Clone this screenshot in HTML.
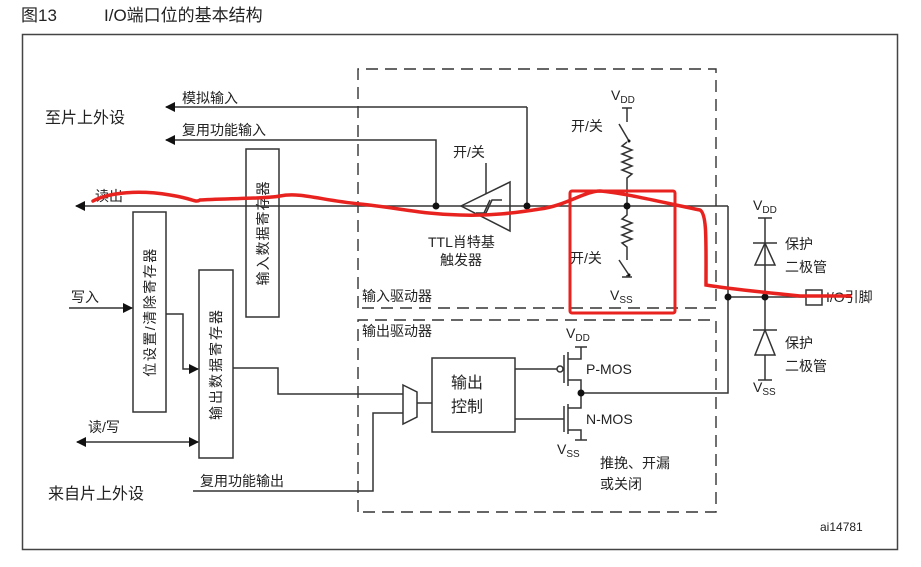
<!DOCTYPE html>
<html><head><meta charset="utf-8"><style>
body{margin:0;background:#fff;}
svg{display:block;font-family:"Liberation Sans","Noto Sans CJK SC",sans-serif;}
text{fill:#222;}
</style></head><body>
<svg width="921" height="567" viewBox="0 0 921 567" xmlns="http://www.w3.org/2000/svg">
<defs>
<marker id="a" markerWidth="10" markerHeight="10" refX="9" refY="5" orient="auto" markerUnits="userSpaceOnUse"><path d="M0,0 L10,5 L0,10 z" fill="#111"/></marker>
<marker id="as" markerWidth="10" markerHeight="10" refX="1" refY="5" orient="auto" markerUnits="userSpaceOnUse"><path d="M10,0 L0,5 L10,10 z" fill="#111"/></marker>
</defs>
<text x="21" y="21" font-size="17">图13</text>
<text x="104" y="21" font-size="17">I/O端口位的基本结构</text>
<rect x="22.5" y="34.5" width="875" height="515" fill="none" stroke="#444" stroke-width="1.5"/>
<g stroke="#333" stroke-width="1.4" fill="none" stroke-dasharray="12,7">
<path d="M358,308 V69 H716 V308 H358"/>
<path d="M358,512 V320 H716 V512 H358"/>
</g>
<g font-size="14">
<text x="362" y="301">输入驱动器</text>
<text x="362" y="336">输出驱动器</text>
<text x="45" y="123" font-size="16">至片上外设</text>
<text x="48" y="499" font-size="16">来自片上外设</text>
<text x="182" y="103">模拟输入</text>
<text x="182" y="135">复用功能输入</text>
<text x="95" y="201">读出</text>
<text x="71" y="302">写入</text>
<text x="88" y="432">读/写</text>
<text x="200" y="486">复用功能输出</text>
<text x="453" y="157">开/关</text>
<text x="428" y="247">TTL肖特基</text>
<text x="440" y="265">触发器</text>
<text x="571" y="131">开/关</text>
<text x="570" y="263">开/关</text>
<text x="785" y="249">保护</text>
<text x="785" y="272">二极管</text>
<text x="785" y="348">保护</text>
<text x="785" y="371">二极管</text>
<text x="826" y="302">I/O引脚</text>
<text x="600" y="468">推挽、开漏</text>
<text x="600" y="489">或关闭</text>
<text x="586" y="374">P-MOS</text>
<text x="586" y="424">N-MOS</text>
<text x="820" y="531" font-size="12">ai14781</text>
</g>
<g font-size="14">
<text x="611" y="100">V<tspan font-size="10" dy="3">DD</tspan></text>
<text x="610" y="300">V<tspan font-size="10" dy="3">SS</tspan></text>
<text x="753" y="210">V<tspan font-size="10" dy="3">DD</tspan></text>
<text x="753" y="392">V<tspan font-size="10" dy="3">SS</tspan></text>
<text x="566" y="338">V<tspan font-size="10" dy="3">DD</tspan></text>
<text x="557" y="454">V<tspan font-size="10" dy="3">SS</tspan></text>
</g>
<g stroke="#333" stroke-width="1.5" fill="#fff">
<rect x="133" y="212" width="33" height="200"/>
<rect x="199" y="270" width="34" height="188"/>
<rect x="246" y="149" width="33" height="168"/>
<rect x="432" y="358" width="83" height="74"/>
</g>
<text x="451" y="388" font-size="16">输出</text>
<text x="451" y="412" font-size="16">控制</text>
<g font-size="14">
<text transform="translate(155,312) rotate(-90)" text-anchor="middle" letter-spacing="1.5">位设置/清除寄存器</text>
<text transform="translate(221,364) rotate(-90)" text-anchor="middle" letter-spacing="2">输出数据寄存器</text>
<text transform="translate(268,233) rotate(-90)" text-anchor="middle" letter-spacing="1">输入数据寄存器</text>
</g>
<g stroke="#333" stroke-width="1.5" fill="none">
<path d="M527,107 H166" marker-end="url(#a)"/>
<path d="M527,107 V206"/>
<path d="M436,206 V140 H166" marker-end="url(#a)"/>
<path d="M728,206 H76" marker-end="url(#a)"/>
<path d="M728,206 V393 H582"/>
<path d="M728,297 H806"/>
<path d="M69,308 H132" marker-end="url(#a)"/>
<path d="M166,314 H183 V369 H198" marker-end="url(#a)"/>
<path d="M77,442 H198" marker-start="url(#as)" marker-end="url(#a)"/>
<path d="M233,368 H278 V394 H403"/>
<path d="M193,491 H373 V413 H403"/>
<path d="M403,385 L417,392 L417,417 L403,424 Z"/>
<path d="M417,403 H432"/>
<path d="M461,206 L510,182 L510,231 Z"/>
<path d="M486,163 V194"/>
<path d="M476,213 H486 L492,200 H502 M484,213 L490,200"/>
<path d="M622,108 H632 M627,108 V122 M619,124 L629,141 M627,142 L622,146 L632,150 L622,154 L632,158 L622,162 L632,166 L622,170 L632,174 L627,178 V206"/>
<path d="M627,206 V215 L622,219 L632,223 L622,227 L632,231 L622,235 L632,239 L622,243 L627,247 V260 M619,260 L629,275 M627,275 V277 M622,277 H632"/>
<path d="M765,218 V330 M758,218 H772"/>
<path d="M753,243 H777 M765,243 L755,265 H775 Z"/>
<path d="M753,330 H777 M765,330 L755,355 H775 Z M765,355 V380 M758,380 H772"/>
<rect x="806" y="290" width="16" height="15" fill="#fff"/>
<path d="M515,369 H557 M564,355 V383 M568,352 V386 M568,359 H581 V347 M575,347 H587 M568,380 H581 V408 H568 M515,419 H564 M564,406 V432 M568,404 V434 M568,430 H581 V440 M575,440 H587"/>
<circle cx="560" cy="369" r="3" fill="#fff"/>
</g>
<g fill="#111">
<circle cx="436" cy="206" r="3.5"/><circle cx="527" cy="206" r="3.5"/><circle cx="627" cy="206" r="3.5"/>
<circle cx="728" cy="297" r="3.5"/><circle cx="765" cy="297" r="3.5"/><circle cx="581" cy="393" r="3.5"/>
<circle cx="629" cy="141" r="1.5"/><circle cx="629" cy="275" r="1.5"/>
</g>
<rect x="570" y="191" width="105" height="122" rx="2" fill="none" stroke="#e8231f" stroke-width="3"/>
<path d="M93,201 C110,192 140,190 170,195 C195,199 195,203 200,200 C230,198 265,199 280,196 C300,192 320,200 360,204 C400,208 420,214 460,215 C490,216 515,213 540,209 C565,206 585,191 600,191 C625,193 665,203 700,210 C707,214 706,240 706,285 C730,289 770,293 800,296 L850,296" fill="none" stroke="#e8231f" stroke-width="3.5" stroke-linecap="round"/>
</svg>
</body></html>
